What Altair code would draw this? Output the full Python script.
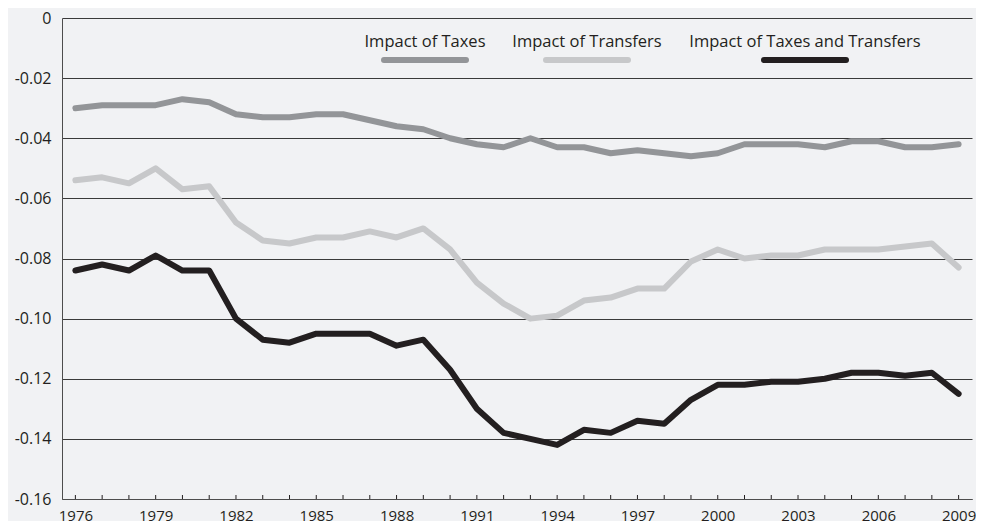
import altair as alt
import pandas as pd

years = list(range(1976, 2010))
taxes = [-0.030, -0.029, -0.029, -0.029, -0.027, -0.028, -0.032, -0.033, -0.033, -0.032,
         -0.032, -0.034, -0.036, -0.037, -0.040, -0.042, -0.043, -0.040, -0.043, -0.043,
         -0.045, -0.044, -0.045, -0.046, -0.045, -0.042, -0.042, -0.042, -0.043, -0.041,
         -0.041, -0.043, -0.043, -0.042]
transfers = [-0.054, -0.053, -0.055, -0.050, -0.057, -0.056, -0.068, -0.074, -0.075, -0.073,
             -0.073, -0.071, -0.073, -0.070, -0.077, -0.088, -0.095, -0.100, -0.099, -0.094,
             -0.093, -0.090, -0.090, -0.081, -0.077, -0.080, -0.079, -0.079, -0.077, -0.077,
             -0.077, -0.076, -0.075, -0.083]
combined = [-0.084, -0.082, -0.084, -0.079, -0.084, -0.084, -0.100, -0.107, -0.108, -0.105,
            -0.105, -0.105, -0.109, -0.107, -0.117, -0.130, -0.138, -0.140, -0.142, -0.137,
            -0.138, -0.134, -0.135, -0.127, -0.122, -0.122, -0.121, -0.121, -0.120, -0.118,
            -0.118, -0.119, -0.118, -0.125]

series_names = ["Impact of Taxes", "Impact of Transfers", "Impact of Taxes and Transfers"]
series_colors = ["#939598", "#c7c8ca", "#231f20"]
y_ticks = [0, -0.02, -0.04, -0.06, -0.08, -0.10, -0.12, -0.14, -0.16]
x_label_years = list(range(1976, 2010, 3))

# legend placement (pixels inside plot area)
legend_centers = [363, 525, 743]

rows = []
for name, vals in zip(series_names, [taxes, transfers, combined]):
    for yr, v in zip(years, vals):
        rows.append({"year": yr, "value": v, "series": name})
df = pd.DataFrame(rows)

W, H = 910, 481
FONT = "Open Sans"
TEXT = "#231f20"

xscale = alt.Scale(domain=[1975.5, 2009.5], nice=False, zero=False)
yscale = alt.Scale(domain=[-0.16, 0], nice=False, zero=False)

lines = alt.Chart(df).mark_line(strokeWidth=6, strokeCap="round", strokeJoin="round").encode(
    x=alt.X("year:Q", scale=xscale,
            axis=alt.Axis(values=x_label_years, format="d", title=None, ticks=False, grid=False,
                          domainColor="#4d4d4d", domainWidth=1, labelFontSize=15, labelFont=FONT,
                          labelColor=TEXT, labelPadding=9, labelFlush=False, labelOverlap=False,
                          labelBound=False)),
    y=alt.Y("value:Q", scale=yscale,
            axis=alt.Axis(values=y_ticks, title=None, ticks=False, grid=True,
                          gridColor="#3a3a3a", gridWidth=1, gridOpacity=1,
                          domainColor="#4d4d4d", domainWidth=1,
                          labelExpr="datum.value == 0 ? '0' : '-' + format(-datum.value, '.2f')",
                          labelFontSize=16, labelFont=FONT, labelColor=TEXT, labelPadding=11)),
    color=alt.Color("series:N", scale=alt.Scale(domain=series_names, range=series_colors), legend=None),
    detail="series:N",
)

tick_df = pd.DataFrame({"year": years})
ticks = alt.Chart(tick_df).mark_rule(color=TEXT, strokeWidth=1).encode(
    x=alt.X("year:Q", scale=xscale),
    y=alt.value(H - 4),
    y2=alt.value(H),
)

layers = [lines, ticks]
for name, color, cx in zip(series_names, series_colors, legend_centers):
    d = pd.DataFrame({"label": [name]})
    layers.append(
        alt.Chart(d).mark_text(fontSize=16.5, font=FONT, color=TEXT, align="center", baseline="middle").encode(
            x=alt.value(cx), y=alt.value(24), text="label:N")
    )
    layers.append(
        alt.Chart(d).mark_rule(strokeWidth=6, strokeCap="round", color=color).encode(
            x=alt.value(cx - 41), x2=alt.value(cx + 41), y=alt.value(42))
    )

chart = alt.layer(*layers).properties(
    width=W, height=H,
    autosize=alt.AutoSizeParams(type="none"),
    padding={"left": 54, "top": 10, "right": 4, "bottom": 22},
    background="#f1f2f4",
).configure_view(stroke=None)

chart.save("out.html", embed_options={"renderer": "svg", "actions": False})
